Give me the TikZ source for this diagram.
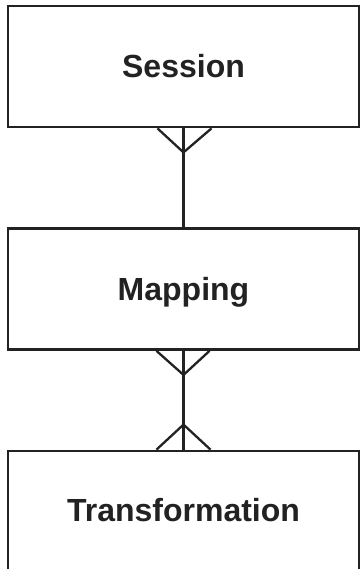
\documentclass[tikz,border=0pt]{standalone}
\usepackage{fontspec}
\setmainfont{Liberation Sans}
\usetikzlibrary{calc}
\definecolor{ink}{HTML}{222222}
\tikzset{
  entity/.style={draw=ink, line width=2.8pt, fill=white, minimum width=351pt,
    minimum height=121pt, inner sep=0pt, text=ink,
    font=\fontsize{32}{36}\selectfont\bfseries, text height=23pt, text depth=0pt},
  rel/.style={draw=ink, line width=2.3pt, line join=miter},
}
\begin{document}
\begin{tikzpicture}[x=1pt,y=-1pt]
\useasboundingbox (0,0) rectangle (360,569);
\clip (0,0) rectangle (360,569);
\fill[white] (0,0) rectangle (360,569);
\node[entity] (s) at (183.5,66.5) {Session};
\node[entity] (m) at (183.5,289) {Mapping};
\node[entity, minimum height=130pt, text depth=12pt] (t) at (183.5,516) {Transformation};
% Session -- Mapping (many at Session)
\draw[rel] (s.south) -- (m.north);
\draw[rel] ($(s.south)+(-26,0)$) -- ($(s.south)+(0,24)$) -- ($(s.south)+(28,0)$);
% Mapping -- Transformation (many at both ends)
\draw[rel] (m.south) -- (t.north);
\draw[rel] ($(m.south)+(-27,0)$) -- ($(m.south)+(0,24)$) -- ($(m.south)+(26,0)$);
\draw[rel] ($(t.north)+(-27,0)$) -- ($(t.north)+(0,-25)$) -- ($(t.north)+(27,0)$);
\end{tikzpicture}
\end{document}
